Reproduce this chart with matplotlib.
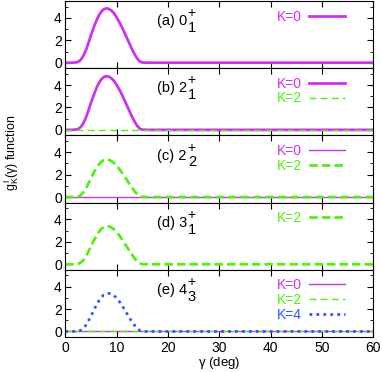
import numpy as np
import matplotlib
matplotlib.use('Agg')
import matplotlib.pyplot as plt
import matplotlib.ticker as ticker

plt.rcParams['font.family'] = ['Liberation Sans', 'DejaVu Sans']
plt.rcParams['mathtext.fontset'] = 'custom'
plt.rcParams['mathtext.rm'] = 'Liberation Sans'
plt.rcParams['mathtext.it'] = 'Liberation Sans'

# gamma grid (deg)
gamma = [0, 1, 2, 2.5, 3, 3.5, 4, 4.5, 5, 5.5, 6, 6.5, 7, 7.5, 8, 8.5, 9, 9.5,
         10, 10.5, 11, 11.5, 12, 12.5, 13, 13.5, 14, 14.5, 15, 16, 60]

# panel (a) 0+1, K=0
g_a_k0 = [0, 0, 0.02, 0.08, 0.25, 0.6, 1.1, 1.75, 2.45, 3.1, 3.7, 4.2, 4.55, 4.78,
          4.85, 4.8, 4.65, 4.4, 4.05, 3.65, 3.2, 2.7, 2.2, 1.7, 1.2, 0.75, 0.38,
          0.12, 0.02, 0, 0]
# panel (b) 2+1
g_b_k0 = [0, 0, 0.02, 0.08, 0.25, 0.58, 1.08, 1.72, 2.42, 3.06, 3.66, 4.15, 4.5, 4.72,
          4.8, 4.75, 4.6, 4.36, 4.02, 3.62, 3.18, 2.68, 2.18, 1.68, 1.18, 0.73, 0.36,
          0.11, 0.02, 0, 0]
g_b_k2 = [0] * len(gamma)
# panel (c) 2+2
g_c_k0 = [0] * len(gamma)
g_c_k2 = [0, 0, 0.01, 0.05, 0.17, 0.41, 0.76, 1.21, 1.69, 2.14, 2.56, 2.9, 3.14, 3.3,
          3.35, 3.32, 3.21, 3.04, 2.8, 2.52, 2.21, 1.87, 1.52, 1.17, 0.83, 0.52, 0.26,
          0.08, 0.01, 0, 0]
# panel (d) 3+1
g_d_k2 = [0, 0, 0.01, 0.04, 0.14, 0.36, 0.7, 1.13, 1.6, 2.06, 2.5, 2.87, 3.15, 3.33,
          3.4, 3.38, 3.28, 3.1, 2.87, 2.58, 2.26, 1.91, 1.55, 1.19, 0.85, 0.53, 0.26,
          0.08, 0.01, 0, 0]
# panel (e) 4+3
g_e_k0 = [0] * len(gamma)
g_e_k2 = [0] * len(gamma)
g_e_k4 = [0, 0, 0.01, 0.03, 0.1, 0.27, 0.55, 0.94, 1.38, 1.84, 2.3, 2.7, 3.03, 3.27,
          3.38, 3.4, 3.35, 3.2, 2.98, 2.69, 2.35, 1.98, 1.6, 1.22, 0.86, 0.54, 0.27,
          0.09, 0.01, 0, 0]

# panel labels: main text, superscript, subscript
panel_main = ['(a) 0', '(b) 2', '(c) 2', '(d) 3', '(e) 4']
panel_sup = ['+', '+', '+', '+', '+']
panel_sub = ['1', '1', '2', '1', '3']

MAG = '#CC33EE'
GRN = '#55EE11'
BLU = '#3355FF'

# (y, label, color, linestyle, linewidth) per panel
series = [
    [(g_a_k0, 'K=0', MAG, '-', 2.0)],
    [(g_b_k0, 'K=0', MAG, '-', 2.0), (g_b_k2, 'K=2', GRN, (0, (5, 3)), 1.0)],
    [(g_c_k0, 'K=0', MAG, '-', 1.0), (g_c_k2, 'K=2', GRN, (0, (3, 1.5)), 2.0)],
    [(g_d_k2, 'K=2', GRN, (0, (3, 1.5)), 2.0)],
    [(g_e_k0, 'K=0', MAG, '-', 1.0), (g_e_k2, 'K=2', GRN, (0, (5, 3)), 1.0),
     (g_e_k4, 'K=4', BLU, (0, (1, 1.5)), 2.0)],
]

fig, axes = plt.subplots(5, 1, figsize=(3.82, 3.72), dpi=100, sharex=True)
fig.subplots_adjust(left=0.171, right=0.977, top=0.997, bottom=0.094, hspace=0)

for i, ax in enumerate(axes):
    for y, name, col, ls, lw in series[i]:
        ax.plot(gamma, y, color=col, ls=ls, lw=lw, label=name)
    ax.set_xlim(0, 60)
    ax.set_ylim(-0.5, 5.5)
    ax.set_yticks([0, 2, 4])
    ax.yaxis.set_minor_locator(ticker.MultipleLocator(1))
    ax.xaxis.set_major_locator(ticker.MultipleLocator(10))
    ax.tick_params(direction='in', which='both', top=True, right=True,
                   labelsize=10, pad=2.5)
    ax.tick_params(which='major', length=4)
    ax.tick_params(which='minor', length=2.5)
    ax.text(0.298, 0.70, panel_main[i], transform=ax.transAxes, fontsize=10.5,
            va='center', ha='left')
    ax.text(0.396, 0.82, panel_sup[i], transform=ax.transAxes, fontsize=10,
            va='center', ha='left')
    ax.text(0.398, 0.60, panel_sub[i], transform=ax.transAxes, fontsize=10.5,
            va='center', ha='left')
    ax.legend(loc='upper right', bbox_to_anchor=(0.945, 1.04), frameon=False,
              markerfirst=False, labelcolor='linecolor', handlelength=2.6,
              handletextpad=0.5, labelspacing=0.05, fontsize=10, borderpad=0.3)

axes[-1].set_xlabel(r'$\gamma$ (deg)', fontsize=9.5, labelpad=0)
fig.text(0.03, 0.59, r'g$^{\,I}_K$($\gamma$) function', rotation=90,
         va='center', ha='center', fontsize=9)

plt.savefig('out.png', dpi=100)
